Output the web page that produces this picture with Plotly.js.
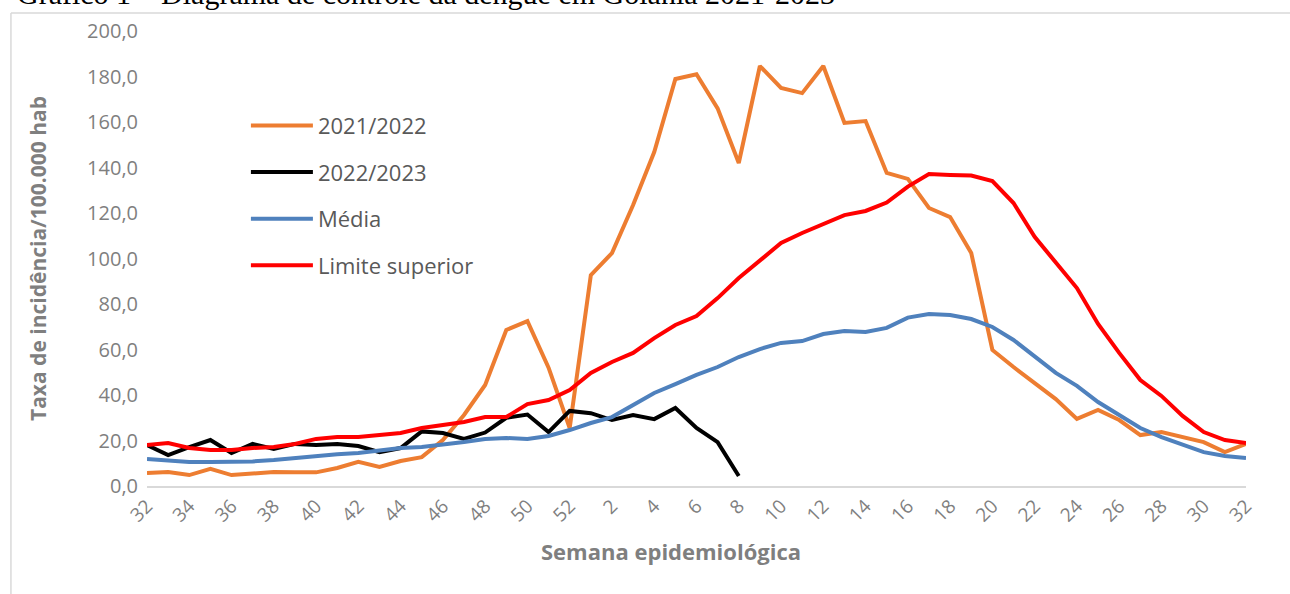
<!DOCTYPE html>
<html>
<head>
<meta charset="utf-8">
<script src="https://cdn.plot.ly/plotly-3.0.1.min.js"></script>
<style>html,body{margin:0;padding:0;background:#fff;}#chart{width:1290px;height:594px;}</style>
</head>
<body>
<div id="chart"></div>
<script>
// Semana epidemiológica (32 a 52, depois 1 a 32)
const weeks = [32,33,34,35,36,37,38,39,40,41,42,43,44,45,46,47,48,49,50,51,52,
  1,2,3,4,5,6,7,8,9,10,11,12,13,14,15,16,17,18,19,20,21,22,23,24,25,26,27,28,29,30,31,32];

const tickLabels = ["32","34","36","38","40","42","44","46","48","50","52",
  "2","4","6","8","10","12","14","16","18","20","22","24","26","28","30","32"];

const s2021_2022 = [5.7,6.2,4.8,7.5,4.8,5.7,6.2,6.0,6.0,7.9,10.6,8.4,11.0,12.7,20.2,31.2,44.4,68.6,72.5,52.0,25.5,
  92.7,102.4,123.5,146.8,178.9,181.0,166.0,142.0,184.6,175.0,172.7,184.6,159.6,160.4,137.6,135.0,122.2,118.2,102.4,
  59.8,52.3,45.3,38.2,29.5,33.4,29.0,22.4,23.7,21.5,19.3,14.9,18.5];

const s2022_2023 = [18.0,13.6,17.1,20.2,14.5,18.5,16.3,18.5,18.0,18.5,17.6,14.9,16.7,24.0,23.3,20.7,23.5,30.0,31.4,23.7,33.0,
  32.0,29.0,31.2,29.4,34.3,25.5,19.3,4.4];

const media = [11.9,11.0,10.5,10.5,10.5,10.8,11.4,12.3,13.2,14.0,14.5,15.4,16.7,17.1,18.0,19.3,20.7,21.1,20.7,22.0,24.6,
  27.7,30.3,35.6,40.9,44.8,48.8,52.3,56.7,60.2,62.9,63.7,66.8,68.1,67.7,69.5,74.0,75.6,75.2,73.4,
  69.9,64.2,56.7,49.7,44.0,36.9,31.2,25.5,21.5,18.0,14.9,13.2,12.3];

const limiteSuperior = [18.0,18.9,16.7,15.8,15.8,16.7,17.1,18.5,20.7,21.5,21.5,22.4,23.3,25.5,26.8,28.1,30.3,30.3,36.0,37.8,42.2,
  49.7,54.5,58.5,65.0,70.8,74.7,82.6,91.4,98.9,106.8,111.2,115.2,119.1,120.9,124.6,131.6,137.1,136.7,136.5,
  134.0,124.4,109.5,98.0,87.0,71.2,58.5,46.6,39.6,30.8,23.7,20.2,18.9];

const idx = weeks.map((w, i) => i);
const tickIdx = idx.filter(i => i % 2 === 0);

function tr(name, y, color, grp) {
  return {
    type: 'scatter', mode: 'lines', name: name,
    x: idx.slice(0, y.length), y: y,
    line: {color: color, width: 4},
    legendgroup: grp,
    hovertemplate: 'Semana %{customdata}: %{y:.1f}<extra>' + name + '</extra>',
    customdata: weeks.slice(0, y.length)
  };
}

const data = [
  tr('2021/2022', s2021_2022, '#ED7D31', 'a'),
  tr('2022/2023', s2022_2023, '#000000', 'b'),
  tr('Média', media, '#4F81BD', 'c'),
  tr('Limite superior', limiteSuperior, '#FF0000', 'd')
];

const layout = {
  width: 1290, height: 594,
  margin: {l: 147, r: 44, t: 31, b: 108},
  paper_bgcolor: '#ffffff', plot_bgcolor: '#ffffff',
  separators: ',.',
  font: {family: 'Open Sans, sans-serif', color: '#7f7f7f'},
  showlegend: true,
  legend: {
    x: 0.09, y: 0.838, xanchor: 'left', yanchor: 'top',
    traceorder: 'grouped', tracegroupgap: 15,
    font: {family: 'Open Sans, sans-serif', size: 22, color: '#595959'},
    bgcolor: 'rgba(0,0,0,0)', itemwidth: 62
  },
  xaxis: {
    range: [0, 52], tickmode: 'array', tickvals: tickIdx, ticktext: tickLabels,
    tickangle: -45, tickfont: {size: 19, color: '#7f7f7f'},
    showgrid: false, zeroline: false,
    showline: true, linecolor: '#d9d9d9', linewidth: 1.5, ticks: ''
  },
  yaxis: {
    range: [0, 200], tickmode: 'linear', tick0: 0, dtick: 20, tickformat: '.1f',
    tickfont: {size: 20, color: '#7f7f7f'}, ticklabelstandoff: 8,
    showgrid: false, zeroline: false, showline: false, ticks: '',
    title: {text: 'Taxa de incidência/100.000 hab', font: {size: 21, color: '#7f7f7f', weight: 'bold'}, standoff: 34}
  },
  annotations: [{
    text: 'Gráfico 1 – Diagrama de controle da dengue em Goiânia 2021-2023',
    xref: 'paper', yref: 'paper', x: -0.1201, y: 1.082, xanchor: 'left', yanchor: 'middle',
    showarrow: false, font: {family: 'Liberation Serif, Times New Roman, serif', size: 30, color: '#000000'}
  }, {
    text: '<b>Semana epidemiológica</b>',
    xref: 'paper', yref: 'paper', x: 0.4768, y: -0.1429, xanchor: 'center', yanchor: 'middle',
    showarrow: false, font: {family: 'Open Sans, sans-serif', size: 22, color: '#7f7f7f'}
  }],
  shapes: [
    {type: 'line', xref: 'paper', yref: 'paper', x0: -0.1238, x1: -0.1238, y0: -0.3, y1: 1.0396,
     line: {color: '#d9d9d9', width: 1.5}},
    {type: 'line', xref: 'paper', yref: 'paper', x0: -0.1238, x1: 1.1, y0: 1.0396, y1: 1.0396,
     line: {color: '#d9d9d9', width: 1.5}}
  ]
};

Plotly.newPlot('chart', data, layout, {displayModeBar: false, staticPlot: true});
</script>
</body>
</html>
